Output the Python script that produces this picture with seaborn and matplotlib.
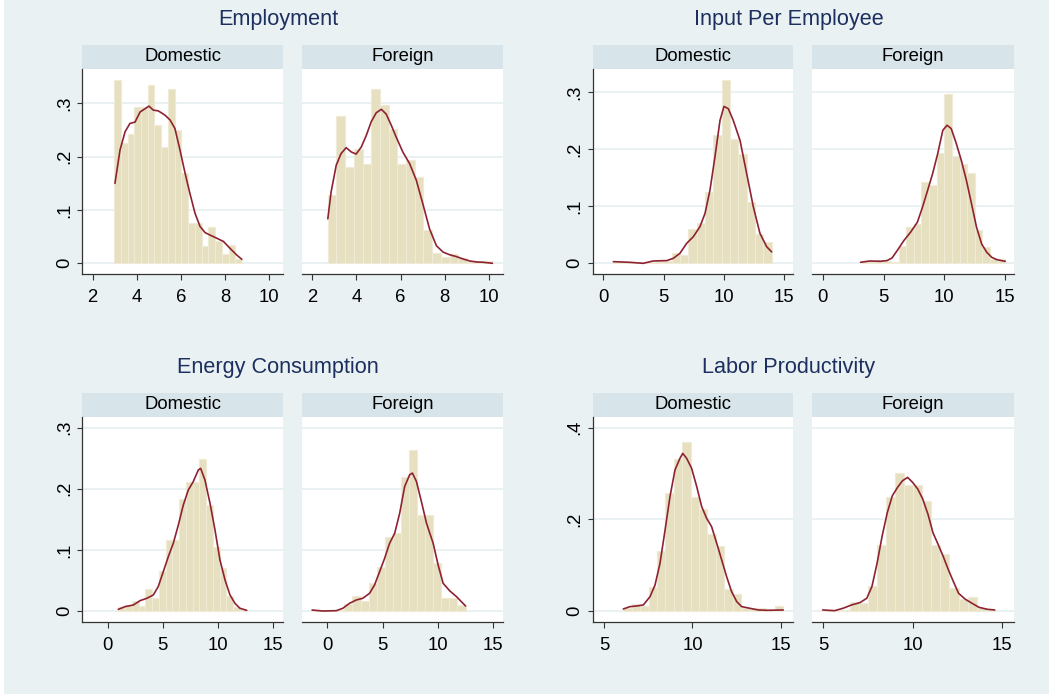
import numpy as np
import pandas as pd
import matplotlib
matplotlib.use("Agg")
import matplotlib.pyplot as plt
from matplotlib.patches import Rectangle
import seaborn as sns

# ------------------------------------------
# Data (density histograms + kernel curves)
# ------------------------------------------
groups = ["Employment", "Input Per Employee", "Energy Consumption", "Labor Productivity"]
panels = ["Domestic", "Foreign"]

# Employment
emp_dom_range = (2.97, 8.77)
emp_dom_hist = [0.344, 0.226, 0.2425, 0.2925, 0.2925, 0.335, 0.259, 0.2175, 0.327, 0.251,
                0.169, 0.0755, 0.0755, 0.033, 0.068, 0.041, 0.0176, 0.0346, 0.0075]
emp_dom_kx = [3.01, 3.24, 3.47, 3.69, 3.92, 4.15, 4.37, 4.55, 4.75, 4.98, 5.28, 5.51, 5.73,
              5.96, 6.19, 6.41, 6.64, 6.87, 7.10, 7.32, 7.63, 7.93, 8.23, 8.53, 8.76]
emp_dom_ky = [0.150, 0.2125, 0.247, 0.2625, 0.265, 0.284, 0.290, 0.295, 0.2875, 0.286, 0.278,
              0.269, 0.253, 0.2125, 0.169, 0.131, 0.094, 0.069, 0.0575, 0.053, 0.047, 0.041,
              0.028, 0.0156, 0.0075]

emp_for_range = (2.71, 10.18)
emp_for_hist = [0.129, 0.277, 0.181, 0.214, 0.187, 0.328, 0.298, 0.252, 0.187, 0.193,
                0.162, 0.063, 0.019, 0.0126, 0.0176, 0.010, 0.005, 0.004, 0.005]
emp_for_kx = [2.71, 2.86, 3.09, 3.31, 3.54, 3.77, 3.99, 4.22, 4.45, 4.67, 4.90, 5.13, 5.35,
              5.58, 5.80, 6.10, 6.41, 6.71, 7.01, 7.31, 7.62, 7.92, 8.22, 8.52, 8.82, 9.12,
              9.43, 9.73, 10.15]
emp_for_ky = [0.0835, 0.134, 0.184, 0.206, 0.217, 0.209, 0.205, 0.218, 0.240, 0.2655, 0.2825,
              0.289, 0.280, 0.259, 0.237, 0.209, 0.187, 0.156, 0.111, 0.0645, 0.033, 0.021,
              0.016, 0.0126, 0.0082, 0.0044, 0.0025, 0.0019, 0.0]

# Input Per Employee
inp_dom_range = (0.83, 13.94)
inp_dom_hist = [0.003, 0.002, 0.0, 0.0, 0.003, 0.004, 0.004, 0.0175, 0.0146, 0.0594,
                0.0699, 0.125, 0.225, 0.320, 0.217, 0.191, 0.1066, 0.0513, 0.0379]
inp_dom_kx = [0.83, 2.21, 3.31, 4.14, 5.25, 5.80, 6.35, 6.91, 7.46, 8.01, 8.43, 8.84, 9.25,
              9.67, 10.0, 10.36, 10.77, 11.33, 11.88, 12.43, 12.98, 13.54, 13.95]
inp_dom_ky = [0.0029, 0.0017, 0.0, 0.0041, 0.0047, 0.0087, 0.0175, 0.035, 0.0466, 0.0641,
              0.0874, 0.128, 0.186, 0.250, 0.2745, 0.2705, 0.250, 0.215, 0.157, 0.099,
              0.0524, 0.029, 0.020]

inp_for_range = (3.11, 15.0)
inp_for_hist = [0.0047, 0.004, 0.0058, 0.004, 0.003, 0.0298, 0.0643, 0.069, 0.1415, 0.1374,
                0.1936, 0.297, 0.187, 0.174, 0.158, 0.059, 0.028, 0.0076, 0.0076]
inp_for_kx = [3.12, 3.89, 4.72, 5.28, 5.70, 6.12, 6.67, 7.22, 7.78, 8.20, 8.62, 9.03, 9.45,
              9.87, 10.22, 10.56, 10.98, 11.39, 11.81, 12.23, 12.64, 13.06, 13.48, 13.89,
              14.31, 15.0]
inp_for_ky = [0.0018, 0.0041, 0.0035, 0.0047, 0.0094, 0.0222, 0.0398, 0.0544, 0.0719, 0.0982,
              0.1275, 0.1567, 0.1918, 0.2327, 0.2415, 0.2357, 0.2094, 0.1801, 0.1450, 0.1041,
              0.0632, 0.0339, 0.0193, 0.0105, 0.0064, 0.0035]

# Energy Consumption
ene_dom_range = (0.96, 12.59)
ene_dom_hist = [0.0071, 0.0098, 0.0169, 0.0082, 0.0366, 0.0208, 0.066, 0.1162, 0.1162, 0.1833,
                0.2106, 0.2106, 0.2488, 0.1735, 0.1042, 0.0698, 0.0251, 0.0071, 0.0016]
ene_dom_kx = [0.96, 1.57, 2.32, 2.93, 3.53, 4.13, 4.58, 5.04, 5.49, 5.94, 6.40, 6.85, 7.30,
              7.75, 8.21, 8.42, 8.81, 9.27, 9.72, 10.17, 10.63, 11.08, 11.53, 11.98, 12.59]
ene_dom_ky = [0.0027, 0.0071, 0.0098, 0.0169, 0.0207, 0.0262, 0.040, 0.0646, 0.0889, 0.1107,
              0.1407, 0.1735, 0.198, 0.2117, 0.2308, 0.2335, 0.2144, 0.1762, 0.1326, 0.0835,
              0.0507, 0.0262, 0.0125, 0.0044, 0.0011]

ene_for_range = (-1.36, 12.5)
ene_for_hist = [0.0016, 0.0, 0.0, 0.0016, 0.0109, 0.0246, 0.017, 0.0464, 0.0727, 0.1219,
                0.1284, 0.2191, 0.2639, 0.1568, 0.1568, 0.0781, 0.0208, 0.0208, 0.0098]
ene_for_kx = [-1.36, -0.40, 0.82, 1.41, 2.02, 2.63, 3.22, 3.83, 4.28, 4.74, 5.19, 5.64, 6.10,
              6.55, 7.00, 7.45, 7.70, 8.06, 8.51, 8.97, 9.57, 10.02, 10.47, 11.08, 11.68, 12.5]
ene_for_ky = [0.0016, 0.0, 0.0005, 0.0044, 0.0126, 0.018, 0.0208, 0.029, 0.0426, 0.0645,
              0.0863, 0.1109, 0.1273, 0.1601, 0.2038, 0.223, 0.2257, 0.212, 0.1792, 0.1437,
              0.1109, 0.0754, 0.0454, 0.0328, 0.0235, 0.0082]

# Labor Productivity
lab_dom_range = (6.09, 15.13)
lab_dom_hist = [0.0058, 0.0145, 0.0109, 0.0531, 0.1309, 0.2582, 0.3309, 0.368, 0.248, 0.2218,
                0.168, 0.1418, 0.048, 0.037, 0.0058, 0.0073, 0.0058, 0.0, 0.011]
lab_dom_kx = [6.09, 6.47, 6.85, 7.22, 7.60, 7.88, 8.16, 8.45, 8.73, 9.01, 9.29, 9.45, 9.67,
              9.95, 10.24, 10.52, 10.80, 11.08, 11.37, 11.65, 11.93, 12.21, 12.50, 12.78,
              13.25, 13.72, 14.19, 15.13]
lab_dom_ky = [0.0044, 0.0095, 0.0109, 0.0131, 0.0313, 0.0564, 0.1033, 0.1767, 0.2502, 0.3076,
              0.3331, 0.344, 0.3331, 0.3113, 0.2713, 0.2276, 0.2022, 0.184, 0.1476, 0.1113,
              0.0749, 0.0422, 0.0204, 0.0095, 0.0058, 0.0022, 0.0015, 0.0022]

lab_for_range = (4.96, 14.60)
lab_for_hist = [0.0022, 0.0, 0.0022, 0.0198, 0.0168, 0.0549, 0.145, 0.2498, 0.3011, 0.2755,
                0.2755, 0.2403, 0.145, 0.1253, 0.0498, 0.0256, 0.030, 0.0059, 0.0022]
lab_for_kx = [4.96, 5.63, 6.10, 6.58, 7.05, 7.43, 7.72, 8.01, 8.29, 8.58, 8.86, 9.15, 9.43,
              9.72, 10.00, 10.29, 10.57, 10.86, 11.14, 11.43, 11.71, 12.00, 12.28, 12.57,
              12.95, 13.33, 13.71, 14.18, 14.60]
lab_for_ky = [0.0022, 0.0007, 0.0059, 0.0132, 0.0183, 0.0278, 0.0535, 0.1048, 0.1634, 0.2147,
              0.2513, 0.2696, 0.2842, 0.2916, 0.2806, 0.2659, 0.244, 0.211, 0.1707, 0.1451,
              0.1194, 0.0901, 0.0645, 0.0388, 0.0256, 0.0168, 0.0081, 0.0037, 0.0022]

# axis ticks per group
emp_xticks, emp_yticks = [2, 4, 6, 8, 10], [0, 0.1, 0.2, 0.3]
inp_xticks, inp_yticks = [0, 5, 10, 15], [0, 0.1, 0.2, 0.3]
ene_xticks, ene_yticks = [0, 5, 10, 15], [0, 0.1, 0.2, 0.3]
lab_xticks, lab_yticks = [5, 10, 15], [0, 0.2, 0.4]

# ------------------------------------------
# Style
# ------------------------------------------
sns.set_theme(style="white")
plt.rcParams["font.family"] = ["Liberation Sans", "DejaVu Sans"]

BG = "#E9F1F3"
STRIP = "#D7E4EA"
GRID = "#E6EFF1"
BAR = "#E6E0C0"
BAR_EDGE = "#EFEBD6"
CURVE = "#8E2232"
TITLE = "#1C2F5E"

W, H = 1049, 694
fig = plt.figure(figsize=(W / 100, H / 100), dpi=100, facecolor=BG)
# thin white margin on the left edge, as in the original export
fig.patches.append(Rectangle((0, 0), 4 / W, 1, transform=fig.transFigure,
                             facecolor="white", edgecolor="none"))


def rect(x0, y0, x1, y1):
    return [x0 / W, 1 - y1 / H, (x1 - x0) / W, (y1 - y0) / H]


def fmt(v):
    return "0" if v == 0 else f"{v:g}".lstrip("0")


# layout in pixels: title x, title y, strip top, plot top, plot bottom, columns, xlim, ylim
layout = [
    (278, 20, 45, 68.5, 274, [(82.3, 283), (301.7, 503)], (1.53, 10.63), (-0.0201, 0.3656)),
    (789, 20, 45, 68.5, 274, [(592.7, 793), (812, 1014)], (-0.88, 15.72), (-0.0187, 0.3408)),
    (278, 368, 393.3, 416.7, 622.3, [(82.3, 283), (301.7, 503)], (-2.3, 15.88), (-0.0185, 0.318)),
    (789, 368, 393.3, 416.7, 622.3, [(592.7, 793), (812, 1014)], (4.36, 15.68), (-0.0247, 0.424)),
]

data = [
    [(emp_dom_range, emp_dom_hist, emp_dom_kx, emp_dom_ky),
     (emp_for_range, emp_for_hist, emp_for_kx, emp_for_ky)],
    [(inp_dom_range, inp_dom_hist, inp_dom_kx, inp_dom_ky),
     (inp_for_range, inp_for_hist, inp_for_kx, inp_for_ky)],
    [(ene_dom_range, ene_dom_hist, ene_dom_kx, ene_dom_ky),
     (ene_for_range, ene_for_hist, ene_for_kx, ene_for_ky)],
    [(lab_dom_range, lab_dom_hist, lab_dom_kx, lab_dom_ky),
     (lab_for_range, lab_for_hist, lab_for_kx, lab_for_ky)],
]
ticks = [(emp_xticks, emp_yticks), (inp_xticks, inp_yticks),
         (ene_xticks, ene_yticks), (lab_xticks, lab_yticks)]

for g, name in enumerate(groups):
    tx, ty, s_top, p_top, p_bot, cols, xlim, ylim = layout[g]
    xt, yt = ticks[g]
    fig.text(tx / W, 1 - ty / H, name, ha="center", va="center",
             fontsize=15.6, color=TITLE)

    for p, label in enumerate(panels):
        x0, x1 = cols[p]
        rng, hist, kx, ky = data[g][p]

        # strip header
        sax = fig.add_axes(rect(x0, s_top, x1, p_top))
        sax.set_facecolor(STRIP)
        sax.set_xticks([])
        sax.set_yticks([])
        for s in sax.spines.values():
            s.set_visible(False)
        sax.text(0.5, 0.5, label, ha="center", va="center", fontsize=13.3,
                 color="black", transform=sax.transAxes)

        ax = fig.add_axes(rect(x0, p_top, x1, p_bot))
        ax.set_facecolor("white")

        edges = np.linspace(rng[0], rng[1], len(hist) + 1)
        df = pd.DataFrame({"x": (edges[:-1] + edges[1:]) / 2, "w": hist})
        sns.histplot(data=df, x="x", weights="w", bins=edges.tolist(), stat="count", ax=ax,
                     color=BAR, alpha=1, edgecolor=BAR_EDGE, linewidth=0.8, zorder=2)
        curve = pd.DataFrame({"x": kx, "y": ky})
        sns.lineplot(data=curve, x="x", y="y", ax=ax, color=CURVE, linewidth=1.2,
                     sort=False, estimator=None, zorder=3)

        ax.set_xlim(*xlim)
        ax.set_ylim(*ylim)
        ax.set_xticks(xt)
        ax.set_xticklabels([str(v) for v in xt])
        ax.set_yticks(yt)
        ax.set_yticklabels([fmt(v) for v in yt])
        ax.set_xlabel("")
        ax.set_ylabel("")
        ax.yaxis.grid(True, color=GRID, linewidth=1.2, zorder=0)
        ax.set_axisbelow(True)

        for side in ["top", "right"]:
            ax.spines[side].set_visible(False)
        ax.spines["bottom"].set_color("#333333")
        ax.spines["bottom"].set_linewidth(0.9)
        ax.tick_params(axis="x", bottom=True, length=4.5, width=0.8, color="#333333",
                       labelsize=13.3, labelcolor="black", pad=6)
        if p == 0:
            ax.spines["left"].set_color("#333333")
            ax.spines["left"].set_linewidth(0.9)
            ax.tick_params(axis="y", left=True, length=3.5, width=0.8, color="#333333",
                           labelsize=13.3, labelcolor="black", pad=3)
            for t in ax.get_yticklabels():
                t.set_rotation(90)
                t.set_va("center")
        else:
            ax.spines["left"].set_visible(False)
            ax.tick_params(axis="y", left=False, labelleft=False)

fig.savefig("out.png", dpi=100, facecolor=BG)
